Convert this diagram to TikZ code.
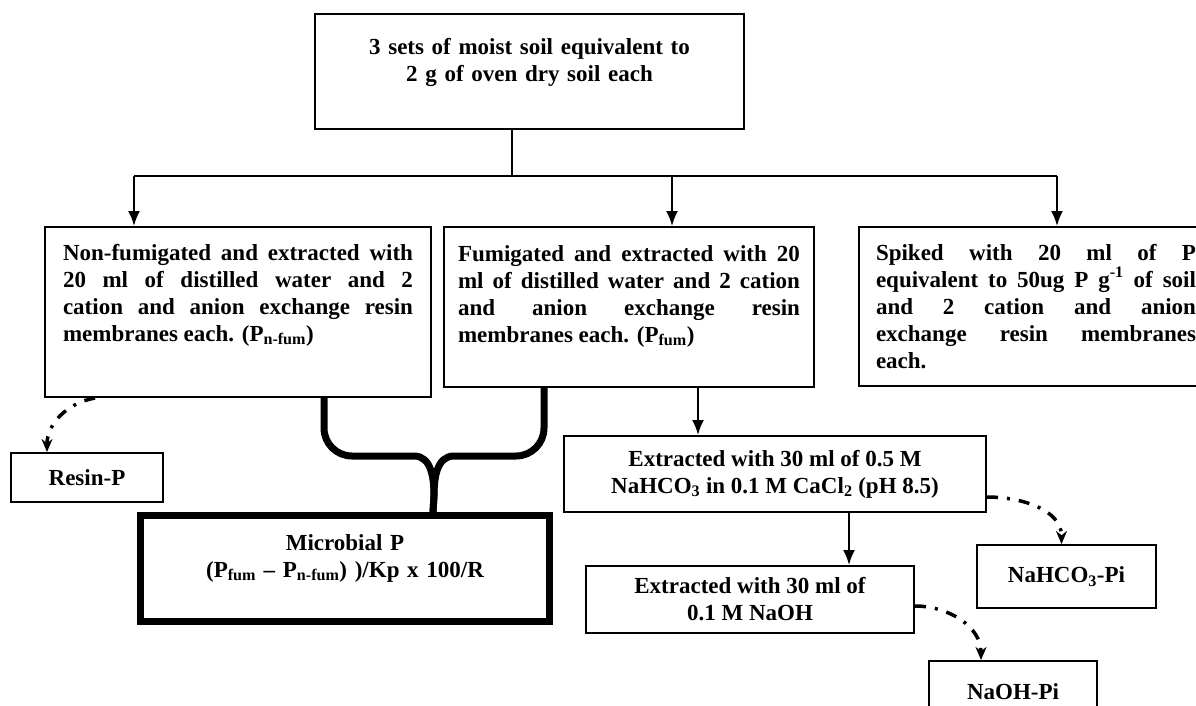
\documentclass[tikz,border=0pt]{standalone}
\usepackage{fontspec}
\setmainfont{Liberation Serif}
\usetikzlibrary{arrows.meta, positioning, calc}
\hyphenpenalty=10000
\exhyphenpenalty=10000
\hbadness=10000
\tikzstyle{stepbox} = [draw, line width=2pt,
inner ysep=0pt, anchor=north west,
align=justify]
\tikzstyle{smallbox} = [draw, line width=2pt,
inner sep=0pt, align=center]
\tikzstyle{flow} = [line width=2pt, -{Latex[length=15pt,width=12pt]}]
\tikzstyle{leach} = [line width=3.5pt,
dash pattern=on 11pt off 9pt on 3pt off 9pt,
-{Stealth[length=13pt,width=11pt]}]
\tikzstyle{fork} = [line width=7pt]

\begin{document}
\begin{tikzpicture}[x=1pt, y=1pt, font=\fontsize{23}{27}\selectfont\bfseries]
	\useasboundingbox (0,0) rectangle (1196,-705);
	\clip (0,0) rectangle (1196,-705);
	\coordinate (brL) at (134,-176);
	\coordinate (brM) at (672,-176);
	\coordinate (brR) at (1057,-176);
	\node[stepbox, align=center, text width=400pt, inner xsep=14.5pt,
	text height=40pt, text depth=75pt](soil) at (314,-13) {3 sets of moist soil equivalent to\\
		2 g of oven dry soil each};
	\node[stepbox, text width=350pt, inner xsep=18pt,
	text height=33pt, text depth=137pt](nonFum) at (44,-226) {
		Non-fumigated and extracted with\linebreak
		20 ml of distilled water and 2\linebreak
		cation and anion exchange resin\linebreak
		membranes each. (P\textsubscript{n-fum})};
	\node[stepbox, text width=342pt, inner xsep=14pt,
	text height=34pt, text depth=126pt](fum) at (443,-226) {
		Fumigated and extracted with 20\linebreak
		ml of distilled water and 2 cation\linebreak
		and anion exchange resin\linebreak
		membranes each. (P\textsubscript{fum})};
	\node[stepbox, text width=320pt, inner xsep=17pt,
	text height=33pt, text depth=126pt](spiked) at (858,-226) {
		Spiked with 20 ml of P\linebreak
		equivalent to 50ug P g\textsuperscript{-1} of soil\linebreak
		and 2 cation and anion\linebreak
		exchange resin membranes\linebreak
		each.};
	\node[smallbox, minimum width=152pt, minimum height=49pt](resinP) at (87,-477.5) {Resin-P};
	\node[smallbox, line width=7pt, text width=400pt, minimum width=409pt,
	text height=34.5pt, text depth=71.5pt](microbial) at (345,-568.5) {Microbial P\\
		(P\textsubscript{fum} -- P\textsubscript{n-fum}) )/Kp x 100/R};
	\node[smallbox, minimum width=422pt, minimum height=76pt](extBicarb) at (775,-474) {
		Extracted with 30 ml of 0.5 M\\
		NaHCO\textsubscript{3} in 0.1 M CaCl\textsubscript{2} (pH 8.5)};
	\node[smallbox, minimum width=328pt, minimum height=67pt](extHydrox) at (750,-599.5) {
		Extracted with 30 ml of\\ 0.1 M NaOH};
	\node[smallbox, minimum width=179pt, minimum height=63pt](bicarbPi) at (1066.5,-576.5) {NaHCO\textsubscript{3}-Pi};
	\node[smallbox, minimum width=168pt, minimum height=62pt](hydroxPi) at (1013,-692) {NaOH-Pi};
	%% Soil to the three sets
	\coordinate (soilFoot) at ([xshift=-17.5pt]soil.south);
	\draw[line width=2pt] (soilFoot) -- (soilFoot |- brL);
	\draw[line width=2pt] (brL) -- (brR);
	\foreach \b/\n in {brL/nonFum, brM/fum, brR/spiked}
		\draw[flow] (\b) -- (\b |- \n.north);
	%% Both sets into microbial P
	\coordinate (stem) at ([xshift=88pt]microbial.north);
	\draw[fork] ([xshift=86pt]nonFum.south) -- ++(0,-30) to[out=-90, in=180] ++(28,-28)
		-- ++(62,0) to[out=0, in=90] ++(20,-40) -- (stem);
	\draw[fork] ([xshift=-85pt]fum.south) -- ++(0,-40) to[out=-90, in=0] ++(-28,-28)
		-- ++(-62,0) to[out=180, in=90] ++(-20,-40) -- (stem);
	%% Sequential extraction
	\coordinate (fumFoot) at ([xshift=69pt]fum.south);
	\draw[flow] (fumFoot) -- (fumFoot |- extBicarb.north);
	\coordinate (bicarbFoot) at ([xshift=74pt]extBicarb.south);
	\draw[flow] (bicarbFoot) -- (bicarbFoot |- extHydrox.north);
	%% Pools
	\draw[leach] ([xshift=-143pt]nonFum.south) to[out=190, in=90] ([xshift=-40pt]resinP.north);
	\draw[leach] ([yshift=-23pt]extBicarb.east) to[out=0, in=90] ([xshift=-5pt]bicarbPi.north);
	\draw[leach] ([yshift=-6.5pt]extHydrox.east) to[out=0, in=90] ([xshift=-32pt]hydroxPi.north);
\end{tikzpicture}
\end{document}
